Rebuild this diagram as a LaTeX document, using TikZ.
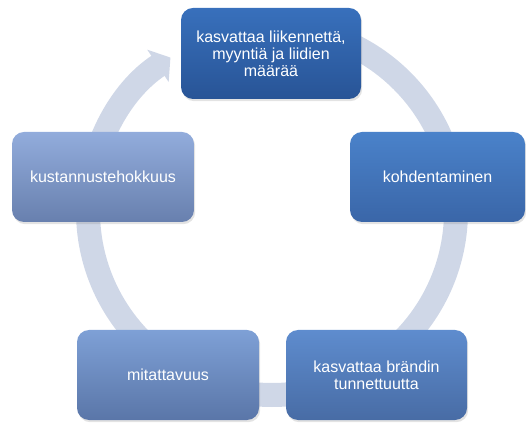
\documentclass[tikz,border=0pt]{standalone}
\usepackage{fontspec}
\setmainfont{Liberation Sans}
\usetikzlibrary{arrows.meta,shadows}
\definecolor{ringc}{RGB}{207,215,231}
\definecolor{c1t}{RGB}{56,112,188}\definecolor{c1b}{RGB}{40,84,150}
\definecolor{c2t}{RGB}{74,130,202}\definecolor{c2b}{RGB}{58,102,168}
\definecolor{c3t}{RGB}{94,140,206}\definecolor{c3b}{RGB}{72,108,165}
\definecolor{c4t}{RGB}{126,160,214}\definecolor{c4b}{RGB}{90,118,168}
\definecolor{c5t}{RGB}{146,172,220}\definecolor{c5b}{RGB}{104,128,174}
\tikzset{
  cyclebox/.style={rounded corners=12pt, inner sep=0pt, align=center,
    text=white, font=\fontsize{16}{17}\selectfont,
    drop shadow={opacity=0.22, shadow xshift=1.2pt, shadow yshift=-2.2pt}},
  ring/.style={draw=ringc, line width=24pt,
    -{Triangle[width=38pt,length=15pt,fill=ringc]}}
}
\begin{document}
\begin{tikzpicture}[x=1pt,y=1pt]
\useasboundingbox (0,0) rectangle (526,422);
\coordinate (c) at (272,211);
\draw[ring] ([shift={(90:184)}]c) arc[start angle=90, end angle=-236.5, radius=184];
\node[cyclebox, minimum width=180pt, minimum height=91pt, top color=c1t, bottom color=c1b]
  (top) at (271,368.5) {kasvattaa liikennettä,\\myyntiä ja liidien\\määrää};
\node[cyclebox, minimum width=175pt, minimum height=90pt, top color=c2t, bottom color=c2b]
  (right) at (437.5,245) {kohdentaminen};
\node[cyclebox, minimum width=181pt, minimum height=90pt, top color=c3t, bottom color=c3b]
  (bright) at (376.5,47) {kasvattaa brändin\\tunnettuutta};
\node[cyclebox, minimum width=182pt, minimum height=90pt, top color=c4t, bottom color=c4b]
  (bleft) at (168,47) {mitattavuus};
\node[cyclebox, minimum width=182pt, minimum height=90pt, top color=c5t, bottom color=c5b]
  (left) at (103,245) {kustannustehokkuus};
\end{tikzpicture}
\end{document}
